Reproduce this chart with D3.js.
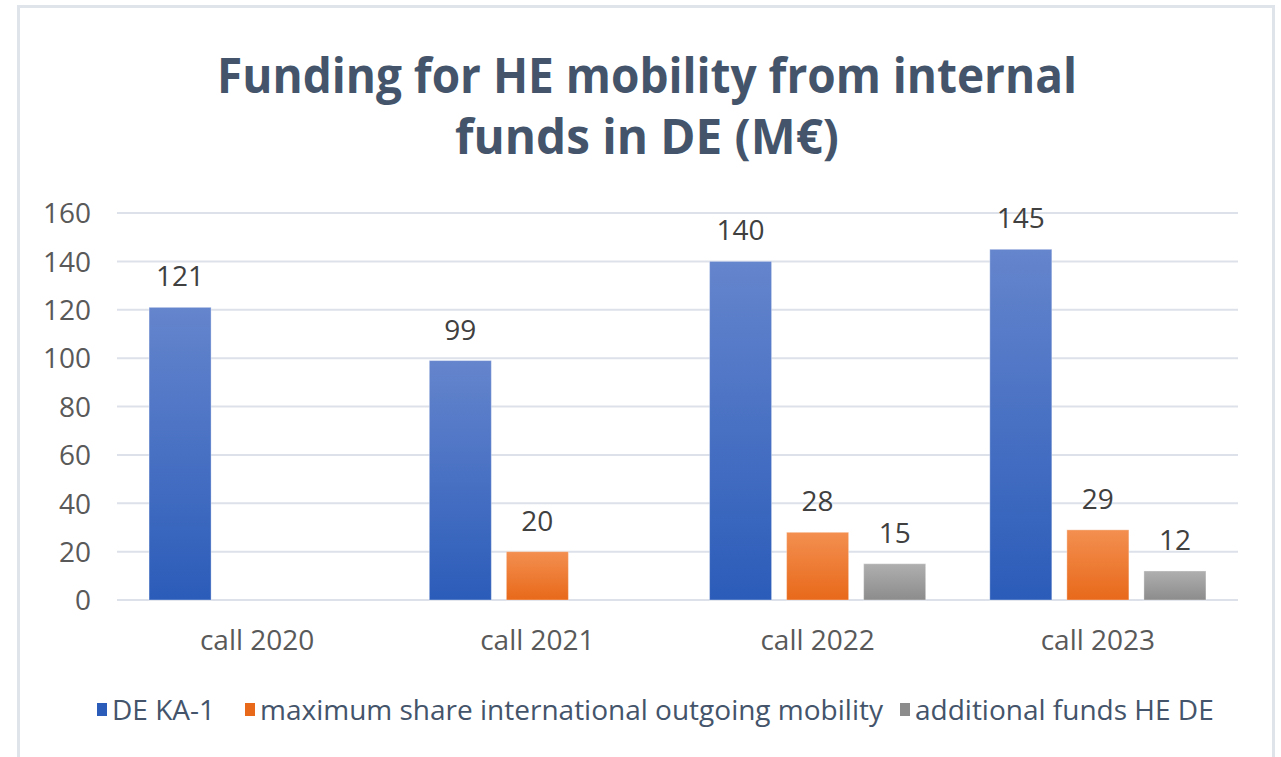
<!DOCTYPE html>
<meta charset="utf-8">
<style>
    body { margin: 0; background: #fff; }
    .chart text { font-family: "Open Sans", sans-serif; }
    .axis text { fill: #595959; font-size: 28px; }
    .label { fill: #404040; font-size: 28px; text-anchor: middle; }
    .legend text { fill: #44546A; font-size: 28px; }
</style>
<svg class="chart"></svg>
<script src="https://d3js.org/d3.v7.min.js" charset="utf-8"></script>
<script>

    var categories = ["call 2020", "call 2021", "call 2022", "call 2023"];
    var series = ["DE KA-1", "maximum share international outgoing mobility", "additional funds HE DE"];
    var deKa1 = [121, 99, 140, 145];
    var maxShare = [null, 20, 28, 29];
    var additional = [null, null, 15, 12];
    var yTicks = [0, 20, 40, 60, 80, 100, 120, 140, 160];
    var titleLines = ["Funding for HE mobility from internal", "funds in DE (M\u20ac)"];

    var width = 1281,
        height = 757;

    var colors = [
        ["#6585cd", "#2b5cb9"],
        ["#f38f50", "#e8691a"],
        ["#afafaf", "#8c8c8c"]
    ];

    var chart = d3.select(".chart")
        .attr("width", width)
        .attr("height", height);

    // gradients like the Excel fill
    var defs = chart.append("defs");
    colors.forEach(function(c, i) {
        var g = defs.append("linearGradient")
            .attr("id", "grad" + i)
            .attr("x1", 0).attr("y1", 0).attr("x2", 0).attr("y2", 1);
        g.append("stop").attr("offset", "0%").attr("stop-color", c[0]);
        g.append("stop").attr("offset", "100%").attr("stop-color", c[1]);
    });

    // frame
    chart.append("rect")
        .attr("x", 18.5).attr("y", 6.5)
        .attr("width", 1255).attr("height", 800)
        .attr("fill", "none")
        .attr("stroke", "#dfe3ea")
        .attr("stroke-width", 3);

    // title, squeezed a bit to mimic the narrower Calibri
    var titleWidths = [860, 384];
    chart.append("g")
        .selectAll("text")
        .data(titleLines)
        .enter().append("text")
        .attr("x", 647)
        .attr("y", function(d, i) { return 93 + i * 61; })
        .attr("text-anchor", "middle")
        .attr("font-size", 48)
        .attr("font-weight", "bold")
        .attr("fill", "#44546A")
        .attr("textLength", function(d, i) { return titleWidths[i]; })
        .attr("lengthAdjust", "spacingAndGlyphs")
        .text(function(d) { return d; });

    var x = d3.scaleBand()
        .domain(categories)
        .range([117, 1238]);

    var x1 = d3.scaleBand()
        .domain(d3.range(series.length))
        .range([0, x.bandwidth()])
        .paddingInner(0.195)
        .paddingOuter(0.416);

    var y = d3.scaleLinear()
        .domain([0, 160])
        .range([600, 213]);

    // gridlines
    chart.append("g")
        .selectAll("line")
        .data(yTicks)
        .enter().append("line")
        .attr("x1", 117).attr("x2", 1238)
        .attr("y1", function(d) { return y(d); })
        .attr("y2", function(d) { return y(d); })
        .attr("stroke", "#dde2ea")
        .attr("stroke-width", 2);

    var yAxis = chart.append("g")
        .attr("class", "axis")
        .attr("transform", "translate(91,0)")
        .call(d3.axisLeft(y).tickValues(yTicks).tickSize(0).tickPadding(0));
    yAxis.select(".domain").remove();
    yAxis.selectAll("text").attr("dy", "0.35em");

    var xAxis = chart.append("g")
        .attr("class", "axis")
        .attr("transform", "translate(0,650)")
        .call(d3.axisBottom(x).tickSize(0).tickPadding(0));
    xAxis.select(".domain").remove();
    xAxis.selectAll("text").attr("y", 0).attr("dy", 0);

    var values = [deKa1, maxShare, additional];
    var data = [];
    categories.forEach(function(c, ci) {
        values.forEach(function(v, si) {
            if (v[ci] != null) data.push({ cat: c, s: si, value: v[ci] });
        });
    });

    var bar = chart.append("g")
        .selectAll("g")
        .data(data)
        .enter().append("g")
        .attr("transform", function(d) { return "translate(" + (x(d.cat) + x1(d.s)) + ",0)"; });

    bar.append("rect")
        .attr("y", function(d) { return y(d.value); })
        .attr("height", function(d) { return y(0) - y(d.value); })
        .attr("width", x1.bandwidth())
        .attr("fill", function(d) { return "url(#grad" + d.s + ")"; })
        .attr("stroke", "rgba(255,255,255,0.35)")
        .attr("stroke-width", 1);

    bar.append("text")
        .attr("class", "label")
        .attr("x", x1.bandwidth() / 2)
        .attr("y", function(d) { return y(d.value) - 21; })
        .text(function(d) { return d.value; });

    // legend
    var legendX = [97, 245, 900];
    var legend = chart.append("g")
        .attr("class", "legend")
        .selectAll("g")
        .data(series)
        .enter().append("g")
        .attr("transform", function(d, i) { return "translate(" + legendX[i] + ",703)"; });

    legend.append("rect")
        .attr("width", 10).attr("height", 13)
        .attr("fill", function(d, i) { return colors[i][1]; });

    legend.append("text")
        .attr("x", 15)
        .attr("y", 7)
        .attr("dy", "0.35em")
        .text(function(d) { return d; });

</script>
